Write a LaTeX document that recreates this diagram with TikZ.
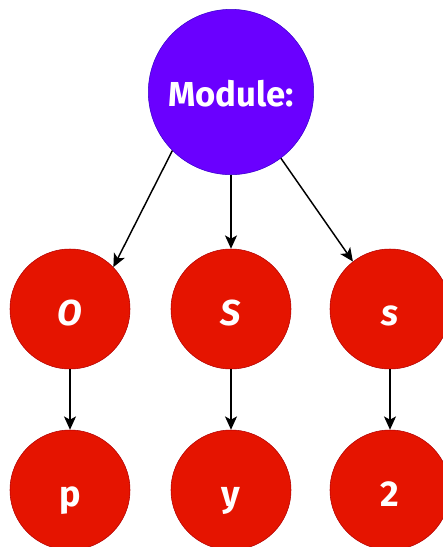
\documentclass[tikz,border=0pt]{standalone}
\usepackage{fontspec}
\setmainfont{Fira Sans}
\usetikzlibrary{arrows.meta}

\definecolor{modfill}{HTML}{6A00FF}
\definecolor{modline}{HTML}{3700CC}
\definecolor{redfill}{HTML}{E51400}
\definecolor{redline}{HTML}{B20000}

\tikzset{
	modnode/.style={circle, fill=modfill, draw=modline, minimum size=124pt, inner sep=0pt, text height=22pt, text depth=1pt, text=white, font=\fontsize{26}{30}\selectfont\bfseries},
	charnode/.style={circle, fill=redfill, draw=redline, minimum size=90pt, inner sep=0pt, text height=26pt, text depth=1pt, text=white, font=\fontsize{27}{30}\selectfont\bfseries},
	link/.style={draw=black, line width=1.1pt, -{Stealth[length=10pt, width=9pt, inset=2.5pt]}}
}

\begin{document}
\begin{tikzpicture}[x=0.75pt, y=-0.75pt]
		\useasboundingbox (0,0) rectangle (443,547);

		% Root node
		\node[modnode] (mod) at (231,92) {Module:};

		% -- first row
		\node[charnode] (nO) at (70,309) {\itshape O};
		\node[charnode] (nS) at (231,309) {\itshape S};
		\node[charnode] (ns) at (390,309) {\itshape s};

		% -- second row
		\node[charnode] (np) at (70,490) {p};
		\node[charnode] (ny) at (231,490) {y};
		\node[charnode] (n2) at (390,490) {2};

		% Links
		\draw[link] (mod.225) -- (nO.44);
		\draw[link] (mod.south) -- (nS.north);
		\draw[link] (mod.307) -- (ns.128);
		\draw[link] (nO.south) -- (np.north);
		\draw[link] (nS.south) -- (ny.north);
		\draw[link] (ns.south) -- (n2.north);
	\end{tikzpicture}
\end{document}
